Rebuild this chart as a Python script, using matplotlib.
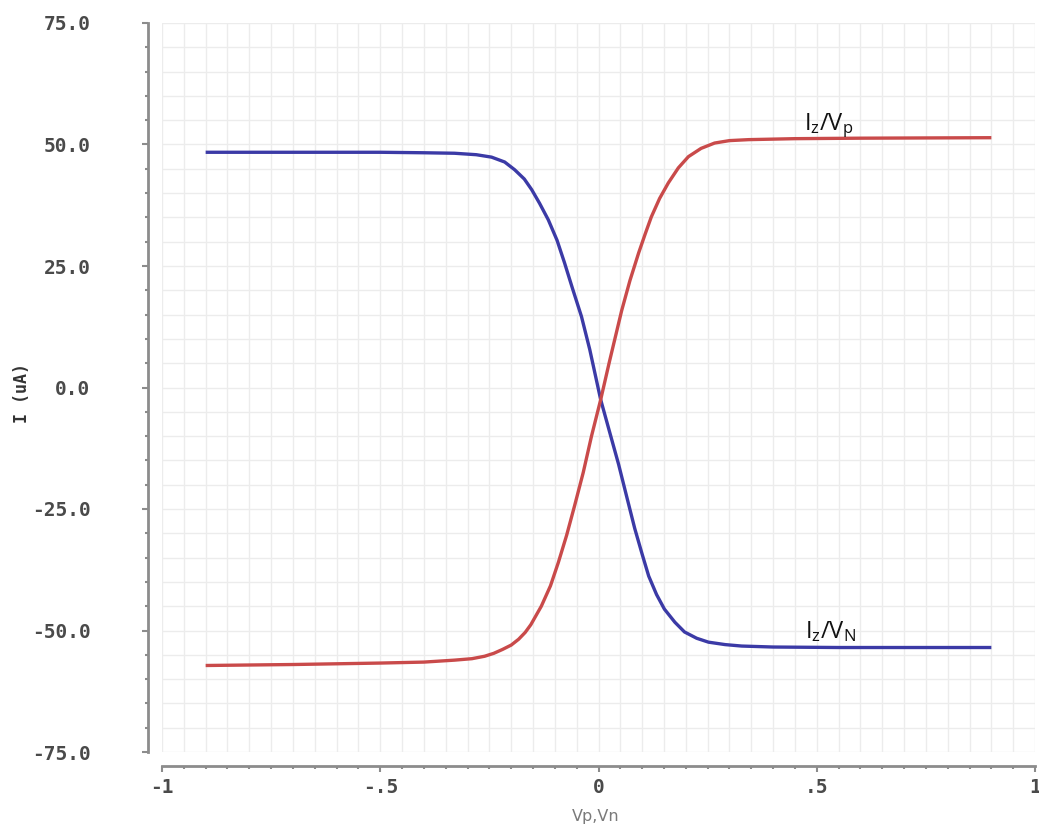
import numpy as np
import matplotlib
matplotlib.use('Agg')
import matplotlib.pyplot as plt
from matplotlib.ticker import MultipleLocator

# I/V transfer curves
vn_x = [-0.90, -0.70, -0.50, -0.40, -0.33, -0.28, -0.245, -0.215, -0.192, -0.170,
        -0.153, -0.135, -0.115, -0.095, -0.078, -0.060, -0.039, -0.020, 0.005, 0.025,
        0.046, 0.065, 0.083, 0.100, 0.115, 0.133, 0.151, 0.175, 0.197, 0.225,
        0.252, 0.29, 0.328, 0.40, 0.55, 0.90]
vn_y = [48.4, 48.4, 48.4, 48.3, 48.2, 47.9, 47.4, 46.4, 44.8, 42.9,
        40.7, 37.9, 34.5, 30.3, 25.7, 20.5, 14.6, 7.8, -2.5, -9.0,
        -15.8, -22.6, -29.0, -34.3, -38.8, -42.6, -45.6, -48.3, -50.3, -51.6,
        -52.4, -52.9, -53.2, -53.4, -53.5, -53.5]

vp_x = [-0.90, -0.70, -0.50, -0.40, -0.33, -0.29, -0.261, -0.240, -0.220, -0.200,
        -0.183, -0.168, -0.155, -0.131, -0.110, -0.092, -0.073, -0.055, -0.035, -0.016,
        0.005, 0.025, 0.053, 0.072, 0.092, 0.107, 0.121, 0.140, 0.160, 0.183,
        0.206, 0.235, 0.266, 0.30, 0.344, 0.45, 0.60, 0.90]
vp_y = [-57.2, -57.0, -56.7, -56.5, -56.1, -55.8, -55.3, -54.7, -53.9, -53.0,
        -51.8, -50.4, -48.8, -45.0, -40.8, -36.0, -30.4, -24.4, -17.5, -10.0,
        -2.5, 5.3, 15.8, 22.0, 27.7, 31.6, 35.1, 38.9, 42.1, 45.2,
        47.5, 49.2, 50.3, 50.8, 51.0, 51.2, 51.3, 51.4]

xticks = [-1, -0.5, 0, 0.5, 1]
xtick_labels = ['-1', '-.5', '0', '.5', '1']
yticks = [75, 50, 25, 0, -25, -50, -75]
ytick_labels = ['75.0', '50.0', '25.0', '0.0', '-25.0', '-50.0', '-75.0']

plt.rcParams['mathtext.fontset'] = 'custom'
plt.rcParams['mathtext.rm'] = 'Open Sans'
plt.rcParams['mathtext.it'] = 'Open Sans'

W, H = 1039, 831
f = plt.figure(figsize=(W/100, H/100), dpi=100)
ax = f.add_axes([162/W, 1-752/H, (1035-162)/W, (752-23)/H])

ax.plot(vn_x, vn_y, color='#3b3aa6', lw=2.4, solid_capstyle='butt')
ax.plot(vp_x, vp_y, color='#c94a4a', lw=2.4, solid_capstyle='butt')

ax.set_xlim(-1, 1)
ax.set_ylim(-75, 75)

#Axes styling
for s in ['top', 'right']:
    ax.spines[s].set_visible(False)
for s in ['left', 'bottom']:
    ax.spines[s].set_position(('outward', 10))
    ax.spines[s].set_color('#8c8c8c')
    ax.spines[s].set_linewidth(2)

ax.set_xticks(xticks, xtick_labels)
ax.set_yticks(yticks, ytick_labels)
ax.xaxis.set_minor_locator(MultipleLocator(0.05))
ax.yaxis.set_minor_locator(MultipleLocator(5))
ax.tick_params(which='major', length=4.5, width=1.5, color='#8c8c8c')
ax.tick_params(which='minor', length=2.5, width=1.5, color='#8c8c8c')
ax.tick_params(axis='y', pad=37)
ax.tick_params(axis='x', pad=4)
for lbl in ax.get_xticklabels() + ax.get_yticklabels():
    lbl.set_fontfamily('DejaVu Sans Mono')
    lbl.set_fontsize(14)
    lbl.set_fontweight('bold')
    lbl.set_color('#4a4a4a')

ax.grid(which='both', color='#ececec', lw=1)
ax.set_axisbelow(True)

#Labels
f.text(596/W, 1-817/H, 'Vp,Vn', ha='center', va='center', fontsize=11.5,
       color='#7a7a7a', family='DejaVu Sans')
f.text(22/W, 1-393/H, 'I (uA)', ha='center', va='center', rotation=90,
       fontsize=12, color='#333333', family='DejaVu Sans Mono', fontweight='bold')

ax.text(0.470, 53.0, r'$\mathrm{I_z/V_p}$', fontsize=17, ha='left', va='baseline',
        color='#111111')
ax.text(0.474, -51.5, r'$\mathrm{I_z/V_N}$', fontsize=17, ha='left', va='baseline',
        color='#111111')

plt.savefig('out.png', dpi=100)
